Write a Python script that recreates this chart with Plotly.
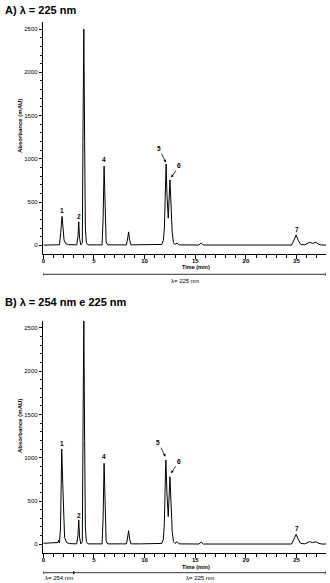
import plotly.graph_objects as go

W, H = 330, 583
FONT = "Liberation Sans, Arial, sans-serif"

# ---------------- data ----------------
time_a = [0, 0.5, 0.7, 0.9, 1.2, 1.6, 1.72, 1.85, 1.95, 2.05, 2.2, 2.5,
          3.3, 3.42, 3.5, 3.58, 3.7, 3.85, 3.93, 4.0, 4.08, 4.15, 4.25, 4.4,
          5.8, 5.9, 6.0, 6.1, 6.2, 6.35,
          8.2, 8.3, 8.42, 8.52, 8.65,
          11.7, 11.85, 11.95, 12.05, 12.12, 12.2, 12.33, 12.5, 12.6, 12.72, 12.85, 13.0, 13.2, 13.4,
          15.35, 15.58, 15.8,
          24.5, 24.7, 24.95, 25.15, 25.4, 25.8, 26.28, 26.6, 26.9, 27.2, 27.5, 27.9]
abs_a = [2, 3, 12, 5, 8, 6, 150, 335, 200, 60, 20, 8,
         5, 100, 272, 80, 5, 30, 1500, 2500, 1200, 200, 30, 5,
         5, 300, 915, 400, 40, 5,
         5, 60, 155, 60, 5,
         10, 60, 200, 700, 940, 600, 314, 756, 500, 150, 30, 10, 25, 5,
         3, 25, 3,
         3, 50, 118, 60, 10, 5, 35, 22, 35, 10, 3, 3]

time_b = [0, 0.5, 0.8, 1.0, 1.2, 1.45, 1.52, 1.6, 1.7, 1.82, 1.92, 2.0, 2.1, 2.3, 2.6,
          3.3, 3.42, 3.5, 3.58, 3.7, 3.85, 3.93, 4.0, 4.08, 4.15, 4.25, 4.4,
          5.8, 5.9, 6.0, 6.1, 6.2, 6.35,
          7.5, 8.2, 8.3, 8.42, 8.52, 8.65, 9.6,
          11.7, 11.85, 11.95, 12.05, 12.1, 12.2, 12.33, 12.5, 12.6, 12.72, 12.85, 13.0, 13.2, 13.4,
          15.35, 15.58, 15.8, 20.0,
          24.5, 24.7, 24.95, 25.15, 25.4, 25.8, 26.28, 26.6, 26.9, 27.2, 27.5, 27.9]
abs_b = [12, 15, 12, 20, 15, 20, 45, 15, 200, 1100, 700, 250, 80, 20, 8,
         5, 100, 282, 80, 5, 30, 1500, 2580, 1200, 200, 30, 5,
         5, 300, 935, 400, 40, 5,
         3, 5, 60, 157, 60, 5, 5,
         10, 60, 250, 800, 973, 600, 320, 780, 500, 150, 30, 10, 30, 5,
         3, 25, 3, 5,
         3, 50, 115, 60, 10, 5, 30, 20, 30, 10, 3, 3]

peak_labels = ["1", "2", "3", "4", "7"]
peak_label_t = [1.82, 3.53, 4.1, 6.0, 25.0]
peak_label_v_a = [400, 330, 2580, 997, 183]
peak_label_v_b = [1166, 335, 2648, 1012, 185]

arrow_labels = ["5", "6"]
arrow_tip_t_a = [12.1, 12.62]
arrow_tip_v_a = [957, 783]
arrow_tip_t_b = [12.05, 12.61]
arrow_tip_v_b = [1011, 820]
arrow_ax = [-7, 8]
arrow_ay = [-14, -12]

y_major = [0, 500, 1000, 1500, 2000, 2500]
y_minor = [v for v in range(100, 2600, 100) if v % 500]
x_major = [0, 5, 10, 15, 20, 25]

segments_a = [(0, 27.9, "λ= 225 nm")]
segments_b = [(0, 3.0, "λ= 254 nm"), (3.0, 27.9, "λ= 225 nm")]

titles = ["A) λ = 225 nm", "B) λ = 254 nm e 225 nm"]


def py(p):
    return 1 - p / H


def px(p):
    return p / W


fig = go.Figure()
fig.add_trace(go.Scatter(x=time_a, y=abs_a, mode="lines", line=dict(color="black", width=1),
                         xaxis="x", yaxis="y", showlegend=False, hoverinfo="skip"))
fig.add_trace(go.Scatter(x=time_b, y=abs_b, mode="lines", line=dict(color="black", width=1),
                         xaxis="x2", yaxis="y2", showlegend=False, hoverinfo="skip"))

xdom = [px(43.3), px(326)]


def xax(anchor):
    return dict(domain=xdom, range=[0, 27.9], anchor=anchor, showline=True, linecolor="black",
                linewidth=1, ticks="outside", ticklen=4, tickwidth=1, tickcolor="black",
                tickvals=x_major, tickfont=dict(family=FONT, size=6, color="black", weight="bold"),
                minor=dict(dtick=1, tick0=0, ticks="outside", ticklen=3, tickwidth=1, tickcolor="black"),
                showgrid=False, zeroline=False, automargin=False, ticklabelstandoff=-4)


def yax(anchor, dom, top):
    return dict(domain=dom, range=[-104, top], anchor=anchor, showline=True, linecolor="black",
                linewidth=1, ticks="outside", ticklen=3.5, tickwidth=1, tickcolor="black",
                tickvals=y_major, tickfont=dict(family=FONT, size=6, color="black"),
                minor=dict(tickvals=y_minor, ticks="outside", ticklen=2, tickwidth=1, tickcolor="black"),
                showgrid=False, zeroline=False, automargin=False)


fig.update_layout(
    width=W, height=H, margin=dict(l=0, r=0, t=0, b=0, autoexpand=False),
    paper_bgcolor="white", plot_bgcolor="white",
    xaxis=xax("y"), yaxis=yax("x", [py(254.3), py(22.3)], 2578),
    xaxis2=xax("y2"), yaxis2=yax("x2", [py(553.3), py(320.7)], 2582),
    showlegend=False,
)

ann = []
shapes = []
# panel titles
for t, ypx in zip(titles, [10, 302]):
    ann.append(dict(text=t, xref="paper", yref="paper", x=px(3), y=py(ypx), xanchor="left",
                    yanchor="middle", showarrow=False,
                    font=dict(family=FONT, size=11, color="black", weight="bold")))
# axis titles
for ypx, xpx in [(126, 267.5), (426, 567)]:
    ann.append(dict(text="Absorbance (mAU)", xref="paper", yref="paper", x=px(20), y=py(ypx),
                    textangle=-90, showarrow=False, xanchor="center", yanchor="middle",
                    font=dict(family=FONT, size=6, color="black", weight="bold")))
    ann.append(dict(text="Time (min)", xref="paper", yref="paper", x=px(195.5), y=py(xpx),
                    showarrow=False, xanchor="center", yanchor="middle",
                    font=dict(family=FONT, size=5.5, color="black", weight="bold")))
# peak labels
for xr, yr, vals in [("x", "y", peak_label_v_a), ("x2", "y2", peak_label_v_b)]:
    for lab, t, v in zip(peak_labels, peak_label_t, vals):
        ann.append(dict(text=lab, xref=xr, yref=yr, x=t, y=v, showarrow=False,
                        xanchor="center", yanchor="middle",
                        font=dict(family=FONT, size=6.5, color="black", weight="bold")))
for xr, yr, tt, vv in [("x", "y", arrow_tip_t_a, arrow_tip_v_a), ("x2", "y2", arrow_tip_t_b, arrow_tip_v_b)]:
    for lab, t, v, ax, ay in zip(arrow_labels, tt, vv, arrow_ax, arrow_ay):
        ann.append(dict(text=lab, xref=xr, yref=yr, x=t, y=v, showarrow=True, ax=ax, ay=ay,
                        arrowhead=2, arrowsize=0.7, arrowwidth=0.8, arrowcolor="black",
                        font=dict(family=FONT, size=6.5, color="black", weight="bold")))
# wavelength brackets
for xr, segs, ylpx, ytpx in [("x", segments_a, 274.3, 280.5), ("x2", segments_b, 572.7, 577.5)]:
    for x0, x1, lab in segs:
        shapes.append(dict(type="line", xref=xr, yref="paper", x0=x0, x1=x1, y0=py(ylpx), y1=py(ylpx),
                           line=dict(color="black", width=0.8)))
        for xe in (x0, x1):
            shapes.append(dict(type="line", xref=xr, yref="paper", x0=xe, x1=xe,
                               y0=py(ylpx - 1.5), y1=py(ylpx + 1.5), line=dict(color="black", width=0.8)))
        ann.append(dict(text=lab, xref=xr, yref="paper", x=(x0 + x1) / 2, y=py(ytpx), showarrow=False,
                        xanchor="center", yanchor="middle",
                        font=dict(family=FONT, size=6, color="black")))

fig.update_layout(annotations=ann, shapes=shapes)
fig.write_html("out.html", config={"displayModeBar": False},
               post_script="document.body.style.margin='0';document.body.style.padding='0';")
